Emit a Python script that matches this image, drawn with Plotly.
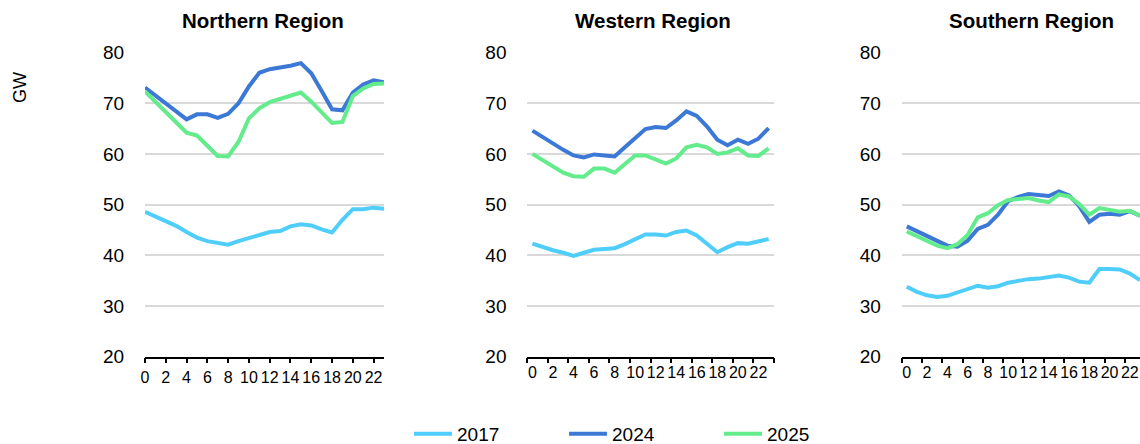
import plotly.graph_objects as go

hours = list(range(24))
tick_vals = list(range(0, 24, 2))
tick_text = [str(h) for h in tick_vals]
years = ["2017", "2024", "2025"]
regions = ["Northern Region", "Western Region", "Southern Region"]

north_2017 = [48.6, 47.7, 46.8, 45.8, 44.6, 43.5, 42.8, 42.5, 42.1, 42.8, 43.4, 44.1,
              44.6, 44.8, 45.7, 46.1, 45.9, 45.1, 44.5, 47.0, 49.1, 49.1, 49.4, 49.2]
north_2024 = [73.1, 71.6, 70.1, 68.4, 66.8, 67.8, 67.8, 67.1, 67.9, 70.0, 73.3, 76.0,
              76.7, 77.0, 77.4, 77.9, 75.9, 72.4, 68.8, 68.6, 72.1, 73.7, 74.5, 74.1]
north_2025 = [72.3, 70.3, 68.3, 66.1, 64.2, 63.6, 61.7, 59.6, 59.5, 62.4, 67.0, 69.0,
              70.2, 70.8, 71.4, 72.1, 70.3, 68.3, 66.1, 66.3, 71.4, 72.9, 73.8, 73.9]

west_2017 = [42.3, 41.6, 41.0, 40.5, 39.9, 40.5, 41.1, 41.25, 41.4, 42.2, 43.2, 44.1,
             44.1, 43.9, 44.6, 44.9, 43.9, 42.2, 40.6, 41.6, 42.4, 42.3, 42.8, 43.2]
west_2024 = [64.6, 63.3, 62.0, 60.8, 59.7, 59.3, 59.9, 59.6, 59.5, 61.3, 63.2, 64.9,
             65.3, 65.1, 66.6, 68.4, 67.5, 65.4, 62.8, 61.7, 62.8, 62.0, 63.0, 65.1]
west_2025 = [60.0, 58.7, 57.4, 56.3, 55.6, 55.5, 57.1, 57.1, 56.3, 58.1, 59.7, 59.7,
             58.9, 58.1, 59.1, 61.3, 61.8, 61.3, 60.0, 60.3, 61.1, 59.7, 59.6, 61.1]

south_2017 = [33.8, 32.8, 32.1, 31.8, 32.0, 32.6, 33.4, 34.0, 33.6, 33.9, 34.6, 35.0,
              35.3, 35.4, 35.7, 36.0, 35.6, 34.8, 34.6, 37.3, 37.3, 37.2, 36.4, 35.1]
south_2024 = [45.7, 44.7, 43.7, 42.7, 41.9, 41.7, 42.9, 45.2, 46.0, 48.0, 50.7, 51.5,
              52.1, 51.9, 51.7, 52.6, 51.8, 49.7, 46.6, 48.0, 48.2, 48.0, 48.7, 47.8]
south_2025 = [44.7, 43.8, 42.7, 41.9, 41.4, 42.2, 44.0, 47.5, 48.3, 49.9, 50.9, 51.1,
              51.3, 50.8, 50.5, 52.0, 51.6, 50.1, 48.0, 49.3, 49.0, 48.6, 48.8, 47.8]

series = [
    [north_2017, north_2024, north_2025],
    [west_2017, west_2024, west_2025],
    [south_2017, south_2024, south_2025],
]
colors = ["#4FCDFB", "#3C78D6", "#62EC8C"]

W, H = 1140, 444
FONT = "Liberation Sans, Arial, sans-serif"

fig = go.Figure()
for p in range(3):
    ax = "" if p == 0 else str(p + 1)
    for k in range(3):
        fig.add_trace(go.Scatter(
            x=hours, y=series[p][k], mode="lines",
            line=dict(color=colors[k], width=4),
            name=years[k], showlegend=(p == 0),
            xaxis="x" + ax, yaxis="y" + ax,
        ))

# pixel layout of plot areas
x_px = [(145, 384), (527.3, 773.8), (901.7, 1140)]
x_rng = [[0, 23], [-0.5, 23.5], [-0.5, 23.0]]
y_dom = [(444 - 356.7) / H, (444 - 52.5) / H]

layout = dict(
    width=W, height=H,
    margin=dict(l=0, r=0, t=0, b=0, autoexpand=False),
    paper_bgcolor="white", plot_bgcolor="white",
    font=dict(family=FONT, color="black"),
    showlegend=True,
    legend=dict(orientation="h", x=409 / W, xanchor="left", y=10 / H, yanchor="middle",
                font=dict(size=19, family=FONT), itemwidth=38,
                entrywidth=102, entrywidthmode="pixels",
                bgcolor="rgba(0,0,0,0)"),
)
for p in range(3):
    ax = "" if p == 0 else str(p + 1)
    between = p > 0
    xa = dict(
        domain=[x_px[p][0] / W, x_px[p][1] / W],
        range=x_rng[p], anchor="y" + ax,
        tickmode="array", tickvals=tick_vals, ticktext=tick_text,
        tickfont=dict(size=16, family=FONT),
        showgrid=False, zeroline=False,
        showline=True, linecolor="black", linewidth=1.5,
        ticks="" if between else "outside", ticklen=5, tickwidth=1.5, tickcolor="black",
    )
    if between:
        xa["minor"] = dict(tickmode="array", tickvals=[v - 0.5 for v in tick_vals] + [23.5],
                           ticks="outside", ticklen=5, tickwidth=1.5, tickcolor="black",
                           showgrid=False)
    ya = dict(
        domain=y_dom, range=[20, 80], anchor="x" + ax,
        tickmode="array", tickvals=[20, 30, 40, 50, 60, 70, 80],
        tickfont=dict(size=19, family=FONT),
        showgrid=True, gridcolor="#D9D9D9", gridwidth=1.5,
        zeroline=False, showline=False,
        ticks="outside", ticklen=16, tickcolor="rgba(0,0,0,0)",
    )
    layout["xaxis" + ax] = xa
    layout["yaxis" + ax] = ya

fig.update_layout(**layout)

title_x = [263, 653, 1031]
for p in range(3):
    fig.add_annotation(text="<b>" + regions[p] + "</b>", x=title_x[p] / W, y=(444 - 21) / H,
                       xref="paper", yref="paper", showarrow=False,
                       xanchor="center", yanchor="middle",
                       font=dict(size=20.5, family=FONT, color="black"))

fig.add_annotation(text="GW", x=20 / W, y=(444 - 88) / H, xref="paper", yref="paper",
                   showarrow=False, textangle=-90, xanchor="center", yanchor="middle",
                   font=dict(size=18, family=FONT, color="black"))

fig.write_html("out.html", config={"displayModeBar": False},
               post_script="document.body.style.margin='0';")
